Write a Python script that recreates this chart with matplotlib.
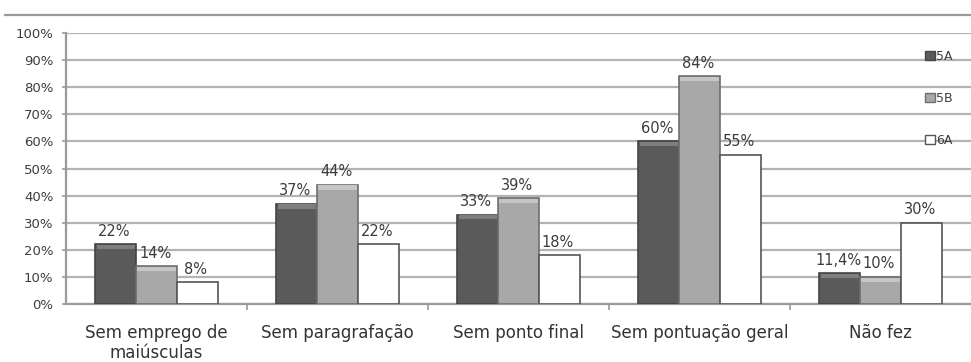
#!/usr/bin/env python3
# Grouped bar chart: writing errors per class (5A, 5B, 6A)
import matplotlib
matplotlib.use('Agg')
import matplotlib.pyplot as plt
from matplotlib.patches import Patch
from matplotlib.lines import Line2D
import numpy as np

categories = ['Sem emprego de\nmaiúsculas', 'Sem paragrafação', 'Sem ponto final',
              'Sem pontuação geral', 'Não fez']
series_names = ['5A', '5B', '6A']
vals_5a = [22, 37, 33, 60, 11.4]
vals_5b = [14, 44, 39, 84, 10]
vals_6a = [8, 22, 18, 55, 30]
labels_5a = ['22%', '37%', '33%', '60%', '11,4%']
labels_5b = ['14%', '44%', '39%', '84%', '10%']
labels_6a = ['8%', '22%', '18%', '55%', '30%']
yticks = [0, 10, 20, 30, 40, 50, 60, 70, 80, 90, 100]

plt.rcParams['font.family'] = ['DejaVu Sans']

fig = plt.figure(figsize=(9.71, 3.62), dpi=100)
ax = fig.add_axes([0.068, 0.160, 0.932, 0.749])

# Style of each series: body colour, top cap colour, edge colour
styles = [('#5a5a5a', '#7e7e7e', '#444444'),
          ('#a8a8a8', '#c6c6c6', '#6e6e6e'),
          ('#ffffff', '#ffffff', '#555555')]
all_vals = [vals_5a, vals_5b, vals_6a]
all_labels = [labels_5a, labels_5b, labels_6a]

w = 0.225
x = np.arange(len(categories)) + 0.5

for j in range(3):
    body, cap, edge = styles[j]
    xs = x + (j - 1) * w
    ax.bar(xs, all_vals[j], width=w, color=body, edgecolor=edge, linewidth=1.2, zorder=3)
    if j < 2:
        # lighter cap to imitate the 3D bevel on top of the bars
        ax.bar(xs, [1.6] * len(xs), bottom=np.array(all_vals[j]) - 1.8, width=w * 0.94,
               color=cap, linewidth=0, zorder=4)
    for xi, v, t in zip(xs, all_vals[j], all_labels[j]):
        ax.annotate(t, (xi, v), xytext=(-1, 4), textcoords='offset points',
                    ha='center', va='bottom', fontsize=10.5, color='#3c3c3c', zorder=5)

ax.set_xlim(0, 5)
ax.set_ylim(0, 100)
ax.set_yticks(yticks)
ax.set_yticklabels([str(t) + '%' for t in yticks], fontsize=9.5, color='#3c3c3c')
ax.yaxis.grid(True, color='#b3b3b3', linewidth=1.6, zorder=0)
ax.set_axisbelow(True)

# category labels at centres, separator ticks at boundaries
ax.set_xticks(x)
ax.set_xticklabels(categories, fontsize=12, color='#333333', linespacing=1.2)
ax.set_xticks(np.arange(1, 5), minor=True)
ax.tick_params(axis='x', which='major', length=0, pad=14)
ax.tick_params(axis='x', which='minor', length=4, color='#999999', width=1.2)
ax.tick_params(axis='y', length=3, color='#999999', width=1.2, pad=6)

for s in ['top', 'right']:
    ax.spines[s].set_visible(False)
ax.spines['left'].set_color('#9a9a9a')
ax.spines['left'].set_linewidth(1.6)
ax.spines['bottom'].set_color('#9a9a9a')
ax.spines['bottom'].set_linewidth(1.6)

# top border line of the chart area
fig.add_artist(Line2D([0.005, 1.0], [0.958, 0.958], color='#9a9a9a', linewidth=1.6,
                      transform=fig.transFigure))

handles = [Patch(facecolor=styles[j][0], edgecolor=styles[j][2], linewidth=1.0)
           for j in range(3)]
leg = ax.legend(handles, series_names, loc='upper left', bbox_to_anchor=(0.944, 0.955),
                frameon=False, fontsize=9, labelspacing=2.3, handlelength=0.75,
                handleheight=0.75, handletextpad=0.1, borderaxespad=0)
for t in leg.get_texts():
    t.set_color('#3c3c3c')

plt.savefig('out.png', dpi=100)
plt.close(fig)
